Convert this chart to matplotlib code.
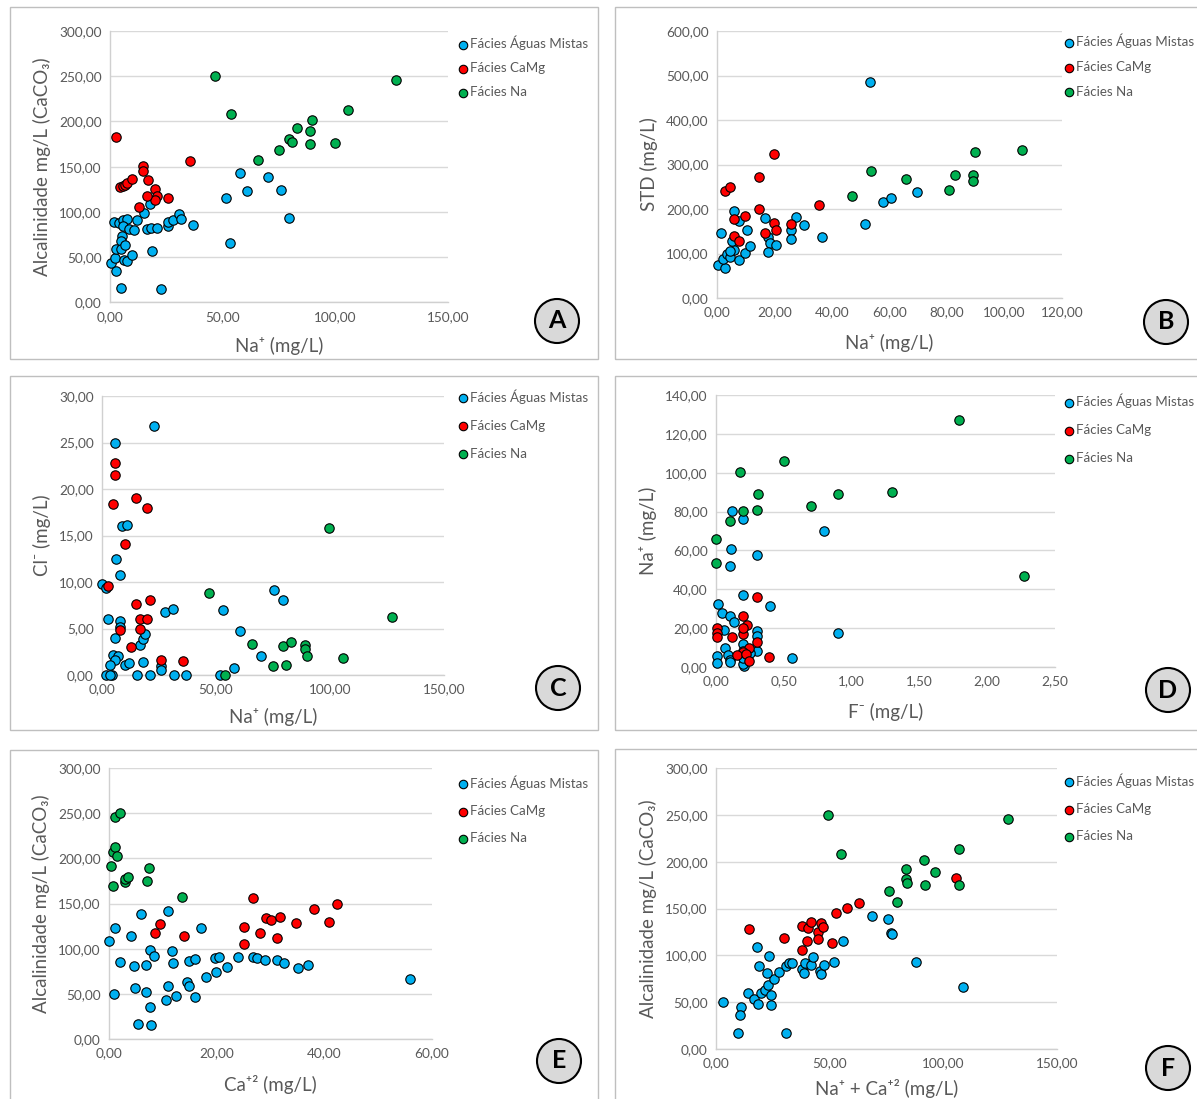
import matplotlib
matplotlib.use("Agg")
import matplotlib.pyplot as plt
from matplotlib.patches import Rectangle, Ellipse
from matplotlib.ticker import FuncFormatter, MultipleLocator

plt.rcParams['font.family'] = ['Lato', 'DejaVu Sans']

W, H = 1197, 1099

series_names = ["Fácies Águas Mistas", "Fácies CaMg", "Fácies Na"]
series_colors = ["#00B0F0", "#FF0000", "#00B050"]

# ---------------- Panel A: Na+ vs alkalinity ----------------
a_mix_x = [0.3, 2.1, 2.8, 4.7, 22.6, 1.8, 4.0, 5.9, 7.7, 5.9, 8.4, 10.6, 12.1, 15.3, 17.7, 16.5, 18.0, 21.0, 18.7, 5.2,
           5.0, 2.5, 5.0, 6.6, 6.0, 7.7, 9.9, 25.7, 25.8, 27.9, 30.5, 31.7, 36.9, 51.6, 53.1, 57.8, 60.8, 69.9, 75.8, 79.5]
a_mix_y = [44, 49, 35, 16, 15, 88.5, 88, 91.5, 92.6, 85, 81, 80, 91.5, 99, 109, 81, 82, 82, 57, 74,
           68.5, 59.6, 59.6, 63, 47, 46, 53, 85, 89, 90.7, 98, 92, 86, 115.6, 66, 142.6, 123.7, 139, 124.4, 93]
a_camg_x = [2.8, 4.4, 5.6, 6.6, 7.7, 9.9, 14.6, 14.6, 16.8, 19.8, 20.9, 19.9, 16.5, 12.8, 25.8, 35.7]
a_camg_y = [183, 128, 129, 130, 132, 136, 150.7, 145, 135, 125, 118, 113, 118, 106, 116, 156.7]
a_na_x = [46.5, 53.5, 65.8, 74.9, 79.6, 80.8, 82.8, 88.6, 88.6, 89.8, 99.9, 105.8, 126.9]
a_na_y = [250, 208, 157, 169, 181, 177, 192.5, 189, 175.3, 202, 176, 213, 246]

# ---------------- Panel B: Na+ vs STD ----------------
b_mix_x = [0.2, 2.7, 2.0, 3.5, 4.6, 5.8, 4.6, 1.5, 5.2, 7.5, 9.9, 11.6, 10.4, 6.0, 7.5, 16.6, 17.7, 18.5, 20.6, 17.6,
           25.7, 25.7, 27.5, 30.4, 36.5, 51.6, 57.6, 60.6, 53.3, 69.7]
b_mix_y = [74.7, 67, 87.4, 99.4, 92, 106.9, 104.6, 145, 128.6, 86, 101, 117.3, 152.5, 195.8, 174, 180, 138, 123, 120, 103,
           153, 132, 181.6, 164.4, 138, 166, 215, 224, 486, 239]
b_camg_x = [2.7, 4.6, 5.8, 5.8, 7.5, 9.9, 14.7, 14.7, 16.6, 19.7, 19.7, 20.6, 25.7, 35.5]
b_camg_y = [240.7, 249, 177, 140, 128.6, 184.6, 271, 201, 145, 322.9, 168, 151.7, 166, 210]
b_na_x = [47, 53.6, 65.9, 80.7, 82.9, 89, 89, 89.8, 106]
b_na_y = [230, 285, 267, 243.5, 276, 276, 264, 327.5, 332]

# ---------------- Panel C: Na+ vs Cl- ----------------
c_mix_x = [22.8, 5.9, 8.8, 11.1, 6.2, 7.8, 0, 1.9, 2.6, 7.8, 7.7, 5.9, 4.7, 6.8, 5.6, 3.7, 10, 12, 18, 16.8,
           18, 19, 27.8, 31, 25.9, 25.9, 1.9, 4.4, 3.5, 15.4, 20.9, 31.6, 36.7, 51.6, 52.9, 57.8, 60.5, 69.7, 75.6, 79.2]
c_mix_y = [26.8, 25, 16, 16.1, 12.45, 10.8, 9.75, 9.4, 6, 5.8, 5.2, 4, 2.1, 2, 1.6, 1.03, 1.03, 1.25, 1.42, 3.24,
           3.84, 4.45, 6.73, 7.05, 0.93, 0.5, 0, 0, 0, 0, 0, 0, 0, 0, 7, 0.75, 4.77, 2, 9.1, 8.1]
c_camg_x = [5.9, 5.9, 4.9, 14.8, 19.7, 9.9, 2.6, 14.8, 20.9, 16.8, 19.7, 16.8, 7.8, 12.8, 25.9, 35.7]
c_camg_y = [22.8, 21.46, 18.4, 19, 18, 14.06, 9.6, 7.65, 8.04, 6, 6, 5, 4.84, 3.02, 1.6, 1.5]
c_na_x = [47, 53.9, 65.8, 74.9, 79.6, 80.6, 82.8, 89.1, 89.1, 89.7, 99.6, 105.8, 127]
c_na_y = [8.78, 0, 3.34, 0.92, 3.1, 1.1, 3.6, 3.27, 2.77, 2.06, 15.8, 1.85, 6.26]

# ---------------- Panel D: F- vs Na+ ----------------
d_mix_x = [0.12, 0.2, 0.11, 0.1, 0.3, 0.8, 0.2, 0.4, 0.017, 0.044, 0.1, 0.13, 0.057, 0.3, 0.3, 0.9, 0.064, 0.005, 0.007,
           0.086, 0.1, 0.2, 0.2, 0.21, 0.21, 0.3, 0.56, 0.1, 0.2, 0.25, 0.2]
d_mix_y = [80.1, 76, 60.9, 52, 57.8, 69.8, 37.1, 31.5, 32.3, 28, 26.3, 23.2, 19.1, 18.3, 15.7, 17.3, 9.7, 5.8, 2.2,
           6.3, 3.8, 12, 8, 3.8, 0.7, 8, 4.6, 2.7, 1.7, 7.2, 4.6]
d_camg_x = [0.3, 0.2, 0.23, 0.005, 0.005, 0.005, 0.12, 0.2, 0.2, 0.3, 0.24, 0.2, 0.155, 0.22, 0.24, 0.39]
d_camg_y = [36.2, 26.3, 21.4, 20, 17.4, 15.2, 15.2, 17.1, 20, 13, 9.9, 7.7, 6.3, 6.5, 3.1, 5.1]
d_na_x = [0, 0, 0.1, 0.18, 0.2, 0.3, 0.31, 0.5, 0.7, 0.9, 1.3, 1.79, 2.27]
d_na_y = [65.9, 53.5, 75, 100.2, 80.1, 80.8, 88.9, 105.9, 82.9, 88.9, 90.1, 127.3, 46.8]

# ---------------- Panel E: Ca+2 vs alkalinity ----------------
e_mix_x = [0, 1, 1.07, 2, 4.06, 4.6, 4.8, 5.3, 5.9, 6.9, 6.9, 7.6, 7.7, 7.8, 8.4, 10.5, 11, 11, 11.7, 11.9, 12.4,
           14.4, 14.9, 14.9, 15.9, 16, 17, 18.1, 19.6, 20.4, 19.9, 21.9, 24, 26.8, 27.5, 28.9, 31.2, 32.6, 35.2, 37, 55.9]
e_mix_y = [108.9, 49.4, 122.9, 85.2, 114, 80.8, 56.8, 16.6, 138.4, 81.9, 52, 98.5, 35.8, 15.9, 91.5, 43.2, 59, 142, 97.4,
           84.1, 47.2, 62.7, 59, 86.7, 88.6, 46.1, 122.5, 68.5, 89.3, 91.1, 74.5, 80, 91.1, 91.1, 90, 87.8, 87, 84.1, 78.6,
           81.5, 66]
e_camg_x = [8.6, 9.4, 13.95, 25.05, 25.05, 26.8, 27.97, 29.1, 30, 31.3, 31.7, 34.7, 38.1, 40.8, 42.3]
e_camg_y = [117.3, 127, 114, 123.6, 105.5, 155.7, 117.3, 133.6, 131.4, 112.2, 135, 128.8, 144.3, 129.5, 149.8]
e_na_x = [0.43, 0.78, 0.71, 1.2, 1.2, 1.57, 2, 3, 3.06, 3.56, 7.05, 7.47, 13.5]
e_na_y = [191.5, 169, 207.4, 246, 212.5, 202.2, 249.8, 174, 176.7, 179.7, 175, 189, 156.8]

# ---------------- Panel F: Na+ + Ca+2 vs alkalinity ----------------
f_mix_x = [3.1, 11, 10.7, 9.7, 30.9, 14, 16.9, 18.4, 19.9, 21.5, 22.9, 24, 24, 25.3, 22.5, 19, 18.1, 23.2, 27.8, 30.7,
           31.9, 33.5, 37.9, 38.8, 38.97, 41.8, 42.8, 45.7, 46.2, 47.5, 51.9, 55.7, 68.5, 75.6, 76.8, 77.6, 87.9, 108.8]
f_mix_y = [50, 45, 36.5, 17, 16.7, 59.6, 53.2, 47.9, 59.6, 63.1, 68.8, 57.4, 47.5, 75.2, 81.6, 88.7, 109.2, 99.3, 82.3,
           88.7, 91.8, 91.8, 85.1, 80.9, 91.5, 89.4, 98.6, 83, 79.8, 90.1, 92.9, 115.6, 141.8, 138.3, 123.4, 122.7, 92.6,
           66.7]
f_camg_x = [14.5, 30, 37.9, 37.9, 40.1, 40.6, 41.8, 45, 45, 46.4, 47.2, 51.1, 52.9, 57.5, 63, 105.7]
f_camg_y = [127.8, 118.5, 105.7, 131.7, 115.3, 129.5, 135.6, 124.6, 117.4, 134.9, 130.2, 113.5, 145.6, 150.2, 156.2,
            182.6]
f_na_x = [49.2, 54.8, 76, 79.7, 83.6, 83.6, 83.8, 91.5, 91.9, 96.4, 107, 107, 128.4]
f_na_y = [250.2, 208.2, 168.7, 156.9, 192.2, 181.5, 176.9, 202.1, 174.7, 189, 213.2, 175.4, 245.9]

alk_label = "Alcalinidade mg/L (CaCO₃)"
na_label = "Na⁺ (mg/L)"

panels = [
    dict(letter="A", box=(9.5, 6.5, 598, 359), plot=(110, 31, 448, 302.5),
         xmax=150, xstep=50, ymax=300, ystep=50,
         xlabel=na_label, ylabel=alk_label, xlab_y=346,
         leg=(456, 44, 24), circ=(557, 321),
         data=[(a_mix_x, a_mix_y), (a_camg_x, a_camg_y), (a_na_x, a_na_y)]),
    dict(letter="B", box=(615, 6.5, 1210, 359), plot=(717, 31, 1062, 298),
         xmax=120, xstep=20, ymax=600, ystep=100,
         xlabel=na_label, ylabel="STD (mg/L)", xlab_y=343,
         leg=(1062, 42, 24.5), circ=(1166, 322),
         data=[(b_mix_x, b_mix_y), (b_camg_x, b_camg_y), (b_na_x, b_na_y)]),
    dict(letter="C", box=(9.5, 376.5, 598, 730), plot=(102, 396, 444, 675),
         xmax=150, xstep=50, ymax=30, ystep=5,
         xlabel=na_label, ylabel="Cl⁻ (mg/L)", xlab_y=717,
         leg=(456, 397, 28), circ=(558, 688),
         data=[(c_mix_x, c_mix_y), (c_camg_x, c_camg_y), (c_na_x, c_na_y)]),
    dict(letter="D", box=(615, 376.5, 1210, 730), plot=(716, 395, 1055, 667),
         xmax=2.5, xstep=0.5, ymax=140, ystep=20,
         xlabel="F⁻ (mg/L)", ylabel=na_label, xlab_y=712,
         leg=(1062, 402, 28), circ=(1168, 690),
         data=[(d_mix_x, d_mix_y), (d_camg_x, d_camg_y), (d_na_x, d_na_y)]),
    dict(letter="E", box=(9.5, 750, 598, 1110), plot=(109, 768, 432, 1039),
         xmax=60, xstep=20, ymax=300, ystep=50,
         xlabel="Ca⁺² (mg/L)", ylabel=alk_label, xlab_y=1084,
         leg=(456, 783, 27.5), circ=(559, 1061),
         data=[(e_mix_x, e_mix_y), (e_camg_x, e_camg_y), (e_na_x, e_na_y)]),
    dict(letter="F", box=(615, 749, 1210, 1110), plot=(716, 768, 1057, 1049),
         xmax=150, xstep=50, ymax=300, ystep=50,
         xlabel="Na⁺ + Ca⁺² (mg/L)", ylabel=alk_label, xlab_y=1088,
         leg=(1062, 781, 27.5), circ=(1168, 1068),
         data=[(f_mix_x, f_mix_y), (f_camg_x, f_camg_y), (f_na_x, f_na_y)]),
]

fig = plt.figure(figsize=(W / 100, H / 100), dpi=100)
fig.patch.set_facecolor("white")

grey_txt = "#595959"
comma_fmt = FuncFormatter(lambda v, p: f"{v:.2f}".replace(".", ","))


def fx(px):
    return px / W


def fy(py):
    return 1 - py / H


LEG_FS = 9.6

for p in panels:
    # panel frame
    bx0, by0, bx1, by1 = p["box"]
    fig.patches.append(Rectangle((fx(bx0), fy(by1)), fx(bx1 - bx0), (by1 - by0) / H,
                                 transform=fig.transFigure, fill=False,
                                 edgecolor="#BFBFBF", linewidth=1.0, zorder=0))

    x0, y0, x1, y1 = p["plot"]
    ax = fig.add_axes([fx(x0), fy(y1), fx(x1 - x0), (y1 - y0) / H])
    ax.set_facecolor("none")
    ax.set_xlim(0, p["xmax"])
    ax.set_ylim(0, p["ymax"])
    ax.xaxis.set_major_locator(MultipleLocator(p["xstep"]))
    ax.yaxis.set_major_locator(MultipleLocator(p["ystep"]))
    ax.xaxis.set_major_formatter(comma_fmt)
    ax.yaxis.set_major_formatter(comma_fmt)
    ax.tick_params(length=0, labelsize=9.8, labelcolor=grey_txt, pad=6)
    ax.grid(axis="y", color="#D9D9D9", linewidth=1.0)
    ax.set_axisbelow(True)
    for side in ("top", "right"):
        ax.spines[side].set_visible(False)
    for side in ("left", "bottom"):
        ax.spines[side].set_color("#D0D0D0")
        ax.spines[side].set_linewidth(1.0)

    for (xs, ys), name, col in zip(p["data"], series_names, series_colors):
        ax.scatter(xs, ys, s=46, color=col, edgecolors="black", linewidths=0.8,
                   label=name, clip_on=False, zorder=3)

    ax.set_xlabel(p["xlabel"], fontsize=13.5, color=grey_txt)
    ax.xaxis.label.set_va("center")
    ax.xaxis.set_label_coords(0.5, (y1 - p["xlab_y"]) / (y1 - y0))
    ax.set_ylabel(p["ylabel"], fontsize=13.5, color=grey_txt, labelpad=6)

    lx, ly, lstep = p["leg"]
    fs_px = LEG_FS * 100 / 72
    ax.legend(loc="upper left", bbox_to_anchor=(fx(lx), fy(ly - 8)), bbox_transform=fig.transFigure,
              frameon=False, fontsize=LEG_FS, handletextpad=0.05, handlelength=1.0, markerscale=0.9,
              borderpad=0, borderaxespad=0, labelspacing=(lstep - 12) / fs_px, labelcolor=grey_txt)

    cx, cy = p["circ"]
    fig.patches.append(Ellipse((fx(cx), fy(cy)), 44 / W, 44 / H, transform=fig.transFigure,
                               facecolor="#D9D9D9", edgecolor="black", linewidth=1.5, zorder=2))
    fig.text(fx(cx), fy(cy), p["letter"], ha="center", va="center", fontsize=18,
             fontweight="bold", color="black", zorder=3)

fig.savefig("out.png", dpi=100)
